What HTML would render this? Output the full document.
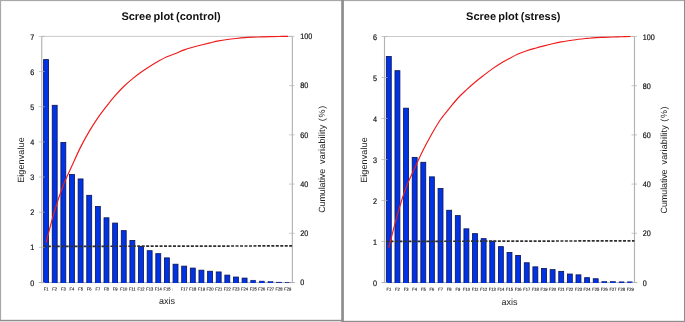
<!DOCTYPE html>
<html><head><meta charset="utf-8"><title>Scree plots</title>
<style>html,body{margin:0;padding:0;background:#fff}body{width:685px;height:322px;overflow:hidden}</style></head>
<body>
<svg width="685" height="322" viewBox="0 0 685 322" style="display:block;text-rendering:geometricPrecision;font-family:'Liberation Sans',sans-serif">
<rect width="685" height="322" fill="#fff"/>
<clipPath id="cp41"><rect x="36.75" y="31.4" width="260.3" height="251.50"/></clipPath>
<line x1="41.75" y1="36.4" x2="292.05" y2="36.4" stroke="#c4c4c4" stroke-width="0.9"/>
<line x1="38.95" y1="282.55" x2="294.85" y2="282.55" stroke="#b0b0b0" stroke-width="0.9"/>
<rect x="43.62" y="59.60" width="4.9" height="226.25" fill="#0033e6" stroke="#0c1658" stroke-width="0.85" clip-path="url(#cp41)"/>
<rect x="52.25" y="105.31" width="4.9" height="180.54" fill="#0033e6" stroke="#0c1658" stroke-width="0.85" clip-path="url(#cp41)"/>
<rect x="60.88" y="142.57" width="4.9" height="143.28" fill="#0033e6" stroke="#0c1658" stroke-width="0.85" clip-path="url(#cp41)"/>
<rect x="69.51" y="174.57" width="4.9" height="111.28" fill="#0033e6" stroke="#0c1658" stroke-width="0.85" clip-path="url(#cp41)"/>
<rect x="78.14" y="178.96" width="4.9" height="106.89" fill="#0033e6" stroke="#0c1658" stroke-width="0.85" clip-path="url(#cp41)"/>
<rect x="86.77" y="195.31" width="4.9" height="90.54" fill="#0033e6" stroke="#0c1658" stroke-width="0.85" clip-path="url(#cp41)"/>
<rect x="95.40" y="206.56" width="4.9" height="79.29" fill="#0033e6" stroke="#0c1658" stroke-width="0.85" clip-path="url(#cp41)"/>
<rect x="104.03" y="217.81" width="4.9" height="68.04" fill="#0033e6" stroke="#0c1658" stroke-width="0.85" clip-path="url(#cp41)"/>
<rect x="112.66" y="223.08" width="4.9" height="62.77" fill="#0033e6" stroke="#0c1658" stroke-width="0.85" clip-path="url(#cp41)"/>
<rect x="121.29" y="230.64" width="4.9" height="55.21" fill="#0033e6" stroke="#0c1658" stroke-width="0.85" clip-path="url(#cp41)"/>
<rect x="129.93" y="240.49" width="4.9" height="45.36" fill="#0033e6" stroke="#0c1658" stroke-width="0.85" clip-path="url(#cp41)"/>
<rect x="138.56" y="246.46" width="4.9" height="39.39" fill="#0033e6" stroke="#0c1658" stroke-width="0.85" clip-path="url(#cp41)"/>
<rect x="147.19" y="250.72" width="4.9" height="35.13" fill="#0033e6" stroke="#0c1658" stroke-width="0.85" clip-path="url(#cp41)"/>
<rect x="155.82" y="253.67" width="4.9" height="32.18" fill="#0033e6" stroke="#0c1658" stroke-width="0.85" clip-path="url(#cp41)"/>
<rect x="164.45" y="257.89" width="4.9" height="27.96" fill="#0033e6" stroke="#0c1658" stroke-width="0.85" clip-path="url(#cp41)"/>
<rect x="173.08" y="264.22" width="4.9" height="21.63" fill="#0033e6" stroke="#0c1658" stroke-width="0.85" clip-path="url(#cp41)"/>
<rect x="181.71" y="266.15" width="4.9" height="19.70" fill="#0033e6" stroke="#0c1658" stroke-width="0.85" clip-path="url(#cp41)"/>
<rect x="190.34" y="268.08" width="4.9" height="17.77" fill="#0033e6" stroke="#0c1658" stroke-width="0.85" clip-path="url(#cp41)"/>
<rect x="198.97" y="270.19" width="4.9" height="15.66" fill="#0033e6" stroke="#0c1658" stroke-width="0.85" clip-path="url(#cp41)"/>
<rect x="207.61" y="271.25" width="4.9" height="14.60" fill="#0033e6" stroke="#0c1658" stroke-width="0.85" clip-path="url(#cp41)"/>
<rect x="216.24" y="271.95" width="4.9" height="13.90" fill="#0033e6" stroke="#0c1658" stroke-width="0.85" clip-path="url(#cp41)"/>
<rect x="224.87" y="275.12" width="4.9" height="10.73" fill="#0033e6" stroke="#0c1658" stroke-width="0.85" clip-path="url(#cp41)"/>
<rect x="233.50" y="277.05" width="4.9" height="8.80" fill="#0033e6" stroke="#0c1658" stroke-width="0.85" clip-path="url(#cp41)"/>
<rect x="242.13" y="278.10" width="4.9" height="7.75" fill="#0033e6" stroke="#0c1658" stroke-width="0.85" clip-path="url(#cp41)"/>
<rect x="250.76" y="280.21" width="4.9" height="5.64" fill="#0033e6" stroke="#0c1658" stroke-width="0.5" clip-path="url(#cp41)"/>
<rect x="259.39" y="281.09" width="4.9" height="4.76" fill="#0033e6" stroke="#0c1658" stroke-width="0.5" clip-path="url(#cp41)"/>
<rect x="268.02" y="281.62" width="4.9" height="4.23" fill="#0033e6" stroke="#0c1658" stroke-width="0.5" clip-path="url(#cp41)"/>
<rect x="276.65" y="282.15" width="4.9" height="3.70" fill="#0033e6" stroke="#0c1658" stroke-width="0.5" clip-path="url(#cp41)"/>
<rect x="285.28" y="282.43" width="4.9" height="3.42" fill="#0033e6" stroke="#0c1658" stroke-width="0.5" clip-path="url(#cp41)"/>
<line x1="41.75" y1="36.4" x2="41.75" y2="282.9" stroke="#b2b2b2" stroke-width="1.15"/>
<line x1="292.35" y1="36.4" x2="292.35" y2="282.9" stroke="#b2b2b2" stroke-width="1.15"/>
<line x1="38.75" y1="282.50" x2="44.75" y2="282.50" stroke="#b2b2b2" stroke-width="0.7"/>
<text transform="translate(34.15,285.60) scale(0.9,1)" font-size="8" text-anchor="end" fill="#111" stroke="#111" stroke-width="0.2">0</text>
<line x1="38.75" y1="247.34" x2="44.75" y2="247.34" stroke="#b2b2b2" stroke-width="0.7"/>
<text transform="translate(34.15,250.44) scale(0.9,1)" font-size="8" text-anchor="end" fill="#111" stroke="#111" stroke-width="0.2">1</text>
<line x1="38.75" y1="212.19" x2="44.75" y2="212.19" stroke="#b2b2b2" stroke-width="0.7"/>
<text transform="translate(34.15,215.29) scale(0.9,1)" font-size="8" text-anchor="end" fill="#111" stroke="#111" stroke-width="0.2">2</text>
<line x1="38.75" y1="177.03" x2="44.75" y2="177.03" stroke="#b2b2b2" stroke-width="0.7"/>
<text transform="translate(34.15,180.13) scale(0.9,1)" font-size="8" text-anchor="end" fill="#111" stroke="#111" stroke-width="0.2">3</text>
<line x1="38.75" y1="141.87" x2="44.75" y2="141.87" stroke="#b2b2b2" stroke-width="0.7"/>
<text transform="translate(34.15,144.97) scale(0.9,1)" font-size="8" text-anchor="end" fill="#111" stroke="#111" stroke-width="0.2">4</text>
<line x1="38.75" y1="106.71" x2="44.75" y2="106.71" stroke="#b2b2b2" stroke-width="0.7"/>
<text transform="translate(34.15,109.81) scale(0.9,1)" font-size="8" text-anchor="end" fill="#111" stroke="#111" stroke-width="0.2">5</text>
<line x1="38.75" y1="71.56" x2="44.75" y2="71.56" stroke="#b2b2b2" stroke-width="0.7"/>
<text transform="translate(34.15,74.66) scale(0.9,1)" font-size="8" text-anchor="end" fill="#111" stroke="#111" stroke-width="0.2">6</text>
<line x1="38.75" y1="36.40" x2="44.75" y2="36.40" stroke="#b2b2b2" stroke-width="0.7"/>
<text transform="translate(34.15,39.50) scale(0.9,1)" font-size="8" text-anchor="end" fill="#111" stroke="#111" stroke-width="0.2">7</text>
<line x1="289.05" y1="282.50" x2="294.55" y2="282.50" stroke="#b2b2b2" stroke-width="0.7"/>
<text transform="translate(300.25,285.35) scale(0.9,1)" font-size="8" fill="#111" stroke="#111" stroke-width="0.2">0</text>
<line x1="289.05" y1="233.28" x2="294.55" y2="233.28" stroke="#b2b2b2" stroke-width="0.7"/>
<text transform="translate(300.25,236.13) scale(0.9,1)" font-size="8" fill="#111" stroke="#111" stroke-width="0.2">20</text>
<line x1="289.05" y1="184.06" x2="294.55" y2="184.06" stroke="#b2b2b2" stroke-width="0.7"/>
<text transform="translate(300.25,186.91) scale(0.9,1)" font-size="8" fill="#111" stroke="#111" stroke-width="0.2">40</text>
<line x1="289.05" y1="134.84" x2="294.55" y2="134.84" stroke="#b2b2b2" stroke-width="0.7"/>
<text transform="translate(300.25,137.69) scale(0.9,1)" font-size="8" fill="#111" stroke="#111" stroke-width="0.2">60</text>
<line x1="289.05" y1="85.62" x2="294.55" y2="85.62" stroke="#b2b2b2" stroke-width="0.7"/>
<text transform="translate(300.25,88.47) scale(0.9,1)" font-size="8" fill="#111" stroke="#111" stroke-width="0.2">80</text>
<line x1="289.05" y1="36.40" x2="294.55" y2="36.40" stroke="#b2b2b2" stroke-width="0.7"/>
<text transform="translate(300.25,39.25) scale(0.9,1)" font-size="8" fill="#111" stroke="#111" stroke-width="0.2">100</text>
<line x1="43.35" y1="246.40" x2="292.05" y2="245.90" stroke="#2e2e2e" stroke-width="1.7" stroke-dasharray="3.0,1.47"/>
<path d="M46.07,242.38 C47.50,237.06 51.82,219.99 54.70,210.47 C57.57,200.95 60.45,192.71 63.33,185.26 C66.20,177.82 69.08,172.16 71.96,165.80 C74.84,159.45 77.71,152.87 80.59,147.13 C83.47,141.40 86.34,136.28 89.22,131.40 C92.10,126.52 94.97,122.03 97.85,117.84 C100.73,113.66 103.61,110.00 106.48,106.31 C109.36,102.62 112.24,99.02 115.11,95.72 C117.99,92.42 120.87,89.30 123.74,86.49 C126.62,83.69 129.50,81.24 132.38,78.88 C135.25,76.52 138.13,74.39 141.01,72.34 C143.88,70.29 146.76,68.40 149.64,66.57 C152.51,64.73 155.39,62.94 158.27,61.32 C161.15,59.70 164.02,58.14 166.90,56.84 C169.78,55.53 172.65,54.65 175.53,53.49 C178.41,52.33 181.29,50.92 184.16,49.87 C187.04,48.83 189.92,48.04 192.79,47.22 C195.67,46.40 198.55,45.67 201.42,44.94 C204.30,44.22 207.18,43.53 210.06,42.86 C212.93,42.18 215.81,41.46 218.69,40.90 C221.56,40.34 224.44,39.91 227.32,39.51 C230.19,39.10 233.07,38.78 235.95,38.47 C238.83,38.15 241.70,37.83 244.58,37.61 C247.46,37.39 250.33,37.27 253.21,37.14 C256.09,37.01 258.96,36.91 261.84,36.82 C264.72,36.73 267.60,36.66 270.47,36.60 C273.35,36.54 276.23,36.51 279.10,36.48 C281.98,36.44 286.30,36.41 287.73,36.40" fill="none" stroke="#f01a1a" stroke-width="1.15" stroke-linecap="round"/>
<text transform="translate(46.07,290.50) rotate(0.4) scale(0.92,1)" font-size="4.4" text-anchor="middle" fill="#111" stroke="#111" stroke-width="0.12">F1</text>
<text transform="translate(54.70,290.50) rotate(0.4) scale(0.92,1)" font-size="4.4" text-anchor="middle" fill="#111" stroke="#111" stroke-width="0.12">F2</text>
<text transform="translate(63.33,290.50) rotate(0.4) scale(0.92,1)" font-size="4.4" text-anchor="middle" fill="#111" stroke="#111" stroke-width="0.12">F3</text>
<text transform="translate(71.96,290.50) rotate(0.4) scale(0.92,1)" font-size="4.4" text-anchor="middle" fill="#111" stroke="#111" stroke-width="0.12">F4</text>
<text transform="translate(80.59,290.50) rotate(0.4) scale(0.92,1)" font-size="4.4" text-anchor="middle" fill="#111" stroke="#111" stroke-width="0.12">F5</text>
<text transform="translate(89.22,290.50) rotate(0.4) scale(0.92,1)" font-size="4.4" text-anchor="middle" fill="#111" stroke="#111" stroke-width="0.12">F6</text>
<text transform="translate(97.85,290.50) rotate(0.4) scale(0.92,1)" font-size="4.4" text-anchor="middle" fill="#111" stroke="#111" stroke-width="0.12">F7</text>
<text transform="translate(106.48,290.50) rotate(0.4) scale(0.92,1)" font-size="4.4" text-anchor="middle" fill="#111" stroke="#111" stroke-width="0.12">F8</text>
<text transform="translate(115.11,290.50) rotate(0.4) scale(0.92,1)" font-size="4.4" text-anchor="middle" fill="#111" stroke="#111" stroke-width="0.12">F9</text>
<text transform="translate(123.74,290.50) rotate(0.4) scale(0.92,1)" font-size="4.4" text-anchor="middle" fill="#111" stroke="#111" stroke-width="0.12">F10</text>
<text transform="translate(132.38,290.50) rotate(0.4) scale(0.92,1)" font-size="4.4" text-anchor="middle" fill="#111" stroke="#111" stroke-width="0.12">F11</text>
<text transform="translate(141.01,290.50) rotate(0.4) scale(0.92,1)" font-size="4.4" text-anchor="middle" fill="#111" stroke="#111" stroke-width="0.12">F12</text>
<text transform="translate(149.64,290.50) rotate(0.4) scale(0.92,1)" font-size="4.4" text-anchor="middle" fill="#111" stroke="#111" stroke-width="0.12">F13</text>
<text transform="translate(158.27,290.50) rotate(0.4) scale(0.92,1)" font-size="4.4" text-anchor="middle" fill="#111" stroke="#111" stroke-width="0.12">F14</text>
<text transform="translate(166.90,290.50) rotate(0.4) scale(0.92,1)" font-size="4.4" text-anchor="middle" fill="#111" stroke="#111" stroke-width="0.12">F15</text>
<text x="172.53" y="290.70" font-size="4.5" text-anchor="middle" fill="#bbb">I</text>
<text transform="translate(184.16,290.50) rotate(0.4) scale(0.92,1)" font-size="4.4" text-anchor="middle" fill="#111" stroke="#111" stroke-width="0.12">F17</text>
<text transform="translate(192.79,290.50) rotate(0.4) scale(0.92,1)" font-size="4.4" text-anchor="middle" fill="#111" stroke="#111" stroke-width="0.12">F18</text>
<text transform="translate(201.42,290.50) rotate(0.4) scale(0.92,1)" font-size="4.4" text-anchor="middle" fill="#111" stroke="#111" stroke-width="0.12">F19</text>
<text transform="translate(210.06,290.50) rotate(0.4) scale(0.92,1)" font-size="4.4" text-anchor="middle" fill="#111" stroke="#111" stroke-width="0.12">F20</text>
<text transform="translate(218.69,290.50) rotate(0.4) scale(0.92,1)" font-size="4.4" text-anchor="middle" fill="#111" stroke="#111" stroke-width="0.12">F21</text>
<text transform="translate(227.32,290.50) rotate(0.4) scale(0.92,1)" font-size="4.4" text-anchor="middle" fill="#111" stroke="#111" stroke-width="0.12">F22</text>
<text transform="translate(235.95,290.50) rotate(0.4) scale(0.92,1)" font-size="4.4" text-anchor="middle" fill="#111" stroke="#111" stroke-width="0.12">F23</text>
<text transform="translate(244.58,290.50) rotate(0.4) scale(0.92,1)" font-size="4.4" text-anchor="middle" fill="#111" stroke="#111" stroke-width="0.12">F24</text>
<text transform="translate(253.21,290.50) rotate(0.4) scale(0.92,1)" font-size="4.4" text-anchor="middle" fill="#111" stroke="#111" stroke-width="0.12">F25</text>
<text transform="translate(261.84,290.50) rotate(0.4) scale(0.92,1)" font-size="4.4" text-anchor="middle" fill="#111" stroke="#111" stroke-width="0.12">F26</text>
<text transform="translate(270.47,290.50) rotate(0.4) scale(0.92,1)" font-size="4.4" text-anchor="middle" fill="#111" stroke="#111" stroke-width="0.12">F27</text>
<text transform="translate(279.10,290.50) rotate(0.4) scale(0.92,1)" font-size="4.4" text-anchor="middle" fill="#111" stroke="#111" stroke-width="0.12">F28</text>
<text transform="translate(287.73,290.50) rotate(0.4) scale(0.92,1)" font-size="4.4" text-anchor="middle" fill="#111" stroke="#111" stroke-width="0.12">F29</text>
<text x="171" y="19.9" font-size="11" word-spacing="-0.8" font-weight="bold" text-anchor="middle" fill="#111">Scree plot (control)</text>
<text x="167" y="303.9" font-size="9" text-anchor="middle" fill="#222">axis</text>
<text transform="translate(23.8,160.1) rotate(-90)" font-size="9" text-anchor="middle" textLength="45.5" fill="#222">Eigenvalue</text>
<text transform="translate(325.1,212.8) rotate(-90)" font-size="9" fill="#222"><tspan x="0" textLength="44">Cumulative</tspan><tspan x="48.9" textLength="39.2">variability</tspan><tspan x="91.6" textLength="15.4">(%)</tspan></text>
<clipPath id="cp384"><rect x="379.5" y="31.5" width="260.0" height="251.40"/></clipPath>
<line x1="384.5" y1="36.5" x2="634.5" y2="36.5" stroke="#c4c4c4" stroke-width="0.9"/>
<line x1="381.7" y1="282.55" x2="637.3" y2="282.55" stroke="#b0b0b0" stroke-width="0.9"/>
<rect x="386.36" y="56.53" width="4.9" height="229.32" fill="#0033e6" stroke="#0c1658" stroke-width="0.85" clip-path="url(#cp384)"/>
<rect x="394.98" y="70.68" width="4.9" height="215.17" fill="#0033e6" stroke="#0c1658" stroke-width="0.85" clip-path="url(#cp384)"/>
<rect x="403.60" y="108.19" width="4.9" height="177.66" fill="#0033e6" stroke="#0c1658" stroke-width="0.85" clip-path="url(#cp384)"/>
<rect x="412.22" y="157.39" width="4.9" height="128.46" fill="#0033e6" stroke="#0c1658" stroke-width="0.85" clip-path="url(#cp384)"/>
<rect x="420.84" y="162.31" width="4.9" height="123.54" fill="#0033e6" stroke="#0c1658" stroke-width="0.85" clip-path="url(#cp384)"/>
<rect x="429.46" y="176.86" width="4.9" height="108.98" fill="#0033e6" stroke="#0c1658" stroke-width="0.85" clip-path="url(#cp384)"/>
<rect x="438.08" y="188.55" width="4.9" height="97.30" fill="#0033e6" stroke="#0c1658" stroke-width="0.85" clip-path="url(#cp384)"/>
<rect x="446.71" y="210.28" width="4.9" height="75.57" fill="#0033e6" stroke="#0c1658" stroke-width="0.85" clip-path="url(#cp384)"/>
<rect x="455.33" y="215.61" width="4.9" height="70.24" fill="#0033e6" stroke="#0c1658" stroke-width="0.85" clip-path="url(#cp384)"/>
<rect x="463.95" y="228.85" width="4.9" height="57.00" fill="#0033e6" stroke="#0c1658" stroke-width="0.85" clip-path="url(#cp384)"/>
<rect x="472.57" y="233.65" width="4.9" height="52.20" fill="#0033e6" stroke="#0c1658" stroke-width="0.85" clip-path="url(#cp384)"/>
<rect x="481.19" y="238.65" width="4.9" height="47.20" fill="#0033e6" stroke="#0c1658" stroke-width="0.85" clip-path="url(#cp384)"/>
<rect x="489.81" y="241.11" width="4.9" height="44.74" fill="#0033e6" stroke="#0c1658" stroke-width="0.85" clip-path="url(#cp384)"/>
<rect x="498.43" y="246.65" width="4.9" height="39.20" fill="#0033e6" stroke="#0c1658" stroke-width="0.85" clip-path="url(#cp384)"/>
<rect x="507.05" y="252.51" width="4.9" height="33.34" fill="#0033e6" stroke="#0c1658" stroke-width="0.85" clip-path="url(#cp384)"/>
<rect x="515.67" y="255.46" width="4.9" height="30.39" fill="#0033e6" stroke="#0c1658" stroke-width="0.85" clip-path="url(#cp384)"/>
<rect x="524.29" y="262.76" width="4.9" height="23.09" fill="#0033e6" stroke="#0c1658" stroke-width="0.85" clip-path="url(#cp384)"/>
<rect x="532.91" y="266.86" width="4.9" height="18.99" fill="#0033e6" stroke="#0c1658" stroke-width="0.85" clip-path="url(#cp384)"/>
<rect x="541.53" y="268.42" width="4.9" height="17.43" fill="#0033e6" stroke="#0c1658" stroke-width="0.85" clip-path="url(#cp384)"/>
<rect x="550.15" y="269.65" width="4.9" height="16.20" fill="#0033e6" stroke="#0c1658" stroke-width="0.85" clip-path="url(#cp384)"/>
<rect x="558.77" y="271.37" width="4.9" height="14.48" fill="#0033e6" stroke="#0c1658" stroke-width="0.85" clip-path="url(#cp384)"/>
<rect x="567.39" y="274.04" width="4.9" height="11.81" fill="#0033e6" stroke="#0c1658" stroke-width="0.85" clip-path="url(#cp384)"/>
<rect x="576.02" y="274.86" width="4.9" height="11.00" fill="#0033e6" stroke="#0c1658" stroke-width="0.85" clip-path="url(#cp384)"/>
<rect x="584.64" y="277.68" width="4.9" height="8.17" fill="#0033e6" stroke="#0c1658" stroke-width="0.85" clip-path="url(#cp384)"/>
<rect x="593.26" y="278.75" width="4.9" height="7.10" fill="#0033e6" stroke="#0c1658" stroke-width="0.85" clip-path="url(#cp384)"/>
<rect x="601.88" y="281.42" width="4.9" height="4.44" fill="#0033e6" stroke="#0c1658" stroke-width="0.5" clip-path="url(#cp384)"/>
<rect x="610.50" y="281.42" width="4.9" height="4.44" fill="#0033e6" stroke="#0c1658" stroke-width="0.5" clip-path="url(#cp384)"/>
<rect x="619.12" y="281.83" width="4.9" height="4.03" fill="#0033e6" stroke="#0c1658" stroke-width="0.5" clip-path="url(#cp384)"/>
<rect x="627.74" y="281.83" width="4.9" height="4.03" fill="#0033e6" stroke="#0c1658" stroke-width="0.5" clip-path="url(#cp384)"/>
<line x1="384.5" y1="36.5" x2="384.5" y2="282.9" stroke="#b2b2b2" stroke-width="1.15"/>
<line x1="634.5" y1="36.5" x2="634.5" y2="282.9" stroke="#b2b2b2" stroke-width="1.15"/>
<line x1="381.5" y1="282.50" x2="387.5" y2="282.50" stroke="#b2b2b2" stroke-width="0.7"/>
<text transform="translate(376.90,285.60) scale(0.9,1)" font-size="8" text-anchor="end" fill="#111" stroke="#111" stroke-width="0.2">0</text>
<line x1="381.5" y1="241.50" x2="387.5" y2="241.50" stroke="#b2b2b2" stroke-width="0.7"/>
<text transform="translate(376.90,244.60) scale(0.9,1)" font-size="8" text-anchor="end" fill="#111" stroke="#111" stroke-width="0.2">1</text>
<line x1="381.5" y1="200.50" x2="387.5" y2="200.50" stroke="#b2b2b2" stroke-width="0.7"/>
<text transform="translate(376.90,203.60) scale(0.9,1)" font-size="8" text-anchor="end" fill="#111" stroke="#111" stroke-width="0.2">2</text>
<line x1="381.5" y1="159.50" x2="387.5" y2="159.50" stroke="#b2b2b2" stroke-width="0.7"/>
<text transform="translate(376.90,162.60) scale(0.9,1)" font-size="8" text-anchor="end" fill="#111" stroke="#111" stroke-width="0.2">3</text>
<line x1="381.5" y1="118.50" x2="387.5" y2="118.50" stroke="#b2b2b2" stroke-width="0.7"/>
<text transform="translate(376.90,121.60) scale(0.9,1)" font-size="8" text-anchor="end" fill="#111" stroke="#111" stroke-width="0.2">4</text>
<line x1="381.5" y1="77.50" x2="387.5" y2="77.50" stroke="#b2b2b2" stroke-width="0.7"/>
<text transform="translate(376.90,80.60) scale(0.9,1)" font-size="8" text-anchor="end" fill="#111" stroke="#111" stroke-width="0.2">5</text>
<line x1="381.5" y1="36.50" x2="387.5" y2="36.50" stroke="#b2b2b2" stroke-width="0.7"/>
<text transform="translate(376.90,39.60) scale(0.9,1)" font-size="8" text-anchor="end" fill="#111" stroke="#111" stroke-width="0.2">6</text>
<line x1="631.5" y1="282.50" x2="637.0" y2="282.50" stroke="#b2b2b2" stroke-width="0.7"/>
<text transform="translate(642.70,285.65) scale(0.9,1)" font-size="8" fill="#111" stroke="#111" stroke-width="0.2">0</text>
<line x1="631.5" y1="233.30" x2="637.0" y2="233.30" stroke="#b2b2b2" stroke-width="0.7"/>
<text transform="translate(642.70,236.45) scale(0.9,1)" font-size="8" fill="#111" stroke="#111" stroke-width="0.2">20</text>
<line x1="631.5" y1="184.10" x2="637.0" y2="184.10" stroke="#b2b2b2" stroke-width="0.7"/>
<text transform="translate(642.70,187.25) scale(0.9,1)" font-size="8" fill="#111" stroke="#111" stroke-width="0.2">40</text>
<line x1="631.5" y1="134.90" x2="637.0" y2="134.90" stroke="#b2b2b2" stroke-width="0.7"/>
<text transform="translate(642.70,138.05) scale(0.9,1)" font-size="8" fill="#111" stroke="#111" stroke-width="0.2">60</text>
<line x1="631.5" y1="85.70" x2="637.0" y2="85.70" stroke="#b2b2b2" stroke-width="0.7"/>
<text transform="translate(642.70,88.85) scale(0.9,1)" font-size="8" fill="#111" stroke="#111" stroke-width="0.2">80</text>
<line x1="631.5" y1="36.50" x2="637.0" y2="36.50" stroke="#b2b2b2" stroke-width="0.7"/>
<text transform="translate(642.70,39.65) scale(0.9,1)" font-size="8" fill="#111" stroke="#111" stroke-width="0.2">100</text>
<line x1="386.1" y1="241.40" x2="634.5" y2="240.85" stroke="#2e2e2e" stroke-width="1.7" stroke-dasharray="3.0,1.47"/>
<path d="M388.81,247.45 C390.25,241.98 394.56,224.58 397.43,214.59 C400.30,204.61 403.18,195.29 406.05,187.55 C408.93,179.80 411.80,174.40 414.67,168.12 C417.55,161.83 420.42,155.54 423.29,149.82 C426.17,144.09 429.04,138.82 431.91,133.77 C434.79,128.73 437.66,123.72 440.53,119.54 C443.41,115.36 446.28,112.22 449.16,108.67 C452.03,105.12 454.90,101.39 457.78,98.26 C460.65,95.13 463.52,92.56 466.40,89.89 C469.27,87.23 472.14,84.69 475.02,82.28 C477.89,79.86 480.76,77.66 483.64,75.43 C486.51,73.20 489.39,70.92 492.26,68.88 C495.13,66.83 498.01,64.92 500.88,63.18 C503.75,61.43 506.63,59.91 509.50,58.39 C512.37,56.86 515.25,55.31 518.12,54.05 C520.99,52.79 523.87,51.79 526.74,50.82 C529.61,49.85 532.49,49.04 535.36,48.22 C538.24,47.39 541.11,46.60 543.98,45.86 C546.86,45.12 549.73,44.42 552.60,43.77 C555.48,43.11 558.35,42.48 561.22,41.94 C564.10,41.40 566.97,40.98 569.84,40.53 C572.72,40.08 575.59,39.59 578.47,39.24 C581.34,38.88 584.21,38.65 587.09,38.39 C589.96,38.13 592.83,37.83 595.71,37.66 C598.58,37.48 601.45,37.44 604.33,37.33 C607.20,37.23 610.07,37.11 612.95,37.01 C615.82,36.92 618.70,36.84 621.57,36.76 C624.44,36.67 628.75,36.54 630.19,36.50" fill="none" stroke="#f01a1a" stroke-width="1.15" stroke-linecap="round"/>
<text transform="translate(388.81,290.80) rotate(0.4) scale(0.92,1)" font-size="4.4" text-anchor="middle" fill="#111" stroke="#111" stroke-width="0.12">F1</text>
<text transform="translate(397.43,290.80) rotate(0.4) scale(0.92,1)" font-size="4.4" text-anchor="middle" fill="#111" stroke="#111" stroke-width="0.12">F2</text>
<text transform="translate(406.05,290.80) rotate(0.4) scale(0.92,1)" font-size="4.4" text-anchor="middle" fill="#111" stroke="#111" stroke-width="0.12">F3</text>
<text transform="translate(414.67,290.80) rotate(0.4) scale(0.92,1)" font-size="4.4" text-anchor="middle" fill="#111" stroke="#111" stroke-width="0.12">F4</text>
<text transform="translate(423.29,290.80) rotate(0.4) scale(0.92,1)" font-size="4.4" text-anchor="middle" fill="#111" stroke="#111" stroke-width="0.12">F5</text>
<text transform="translate(431.91,290.80) rotate(0.4) scale(0.92,1)" font-size="4.4" text-anchor="middle" fill="#111" stroke="#111" stroke-width="0.12">F6</text>
<text transform="translate(440.53,290.80) rotate(0.4) scale(0.92,1)" font-size="4.4" text-anchor="middle" fill="#111" stroke="#111" stroke-width="0.12">F7</text>
<text transform="translate(449.16,290.80) rotate(0.4) scale(0.92,1)" font-size="4.4" text-anchor="middle" fill="#111" stroke="#111" stroke-width="0.12">F8</text>
<text transform="translate(457.78,290.80) rotate(0.4) scale(0.92,1)" font-size="4.4" text-anchor="middle" fill="#111" stroke="#111" stroke-width="0.12">F9</text>
<text transform="translate(466.40,290.80) rotate(0.4) scale(0.92,1)" font-size="4.4" text-anchor="middle" fill="#111" stroke="#111" stroke-width="0.12">F10</text>
<text transform="translate(475.02,290.80) rotate(0.4) scale(0.92,1)" font-size="4.4" text-anchor="middle" fill="#111" stroke="#111" stroke-width="0.12">F11</text>
<text transform="translate(483.64,290.80) rotate(0.4) scale(0.92,1)" font-size="4.4" text-anchor="middle" fill="#111" stroke="#111" stroke-width="0.12">F12</text>
<text transform="translate(492.26,290.80) rotate(0.4) scale(0.92,1)" font-size="4.4" text-anchor="middle" fill="#111" stroke="#111" stroke-width="0.12">F13</text>
<text transform="translate(500.88,290.80) rotate(0.4) scale(0.92,1)" font-size="4.4" text-anchor="middle" fill="#111" stroke="#111" stroke-width="0.12">F14</text>
<text transform="translate(509.50,290.80) rotate(0.4) scale(0.92,1)" font-size="4.4" text-anchor="middle" fill="#111" stroke="#111" stroke-width="0.12">F15</text>
<text transform="translate(518.12,290.80) rotate(0.4) scale(0.92,1)" font-size="4.4" text-anchor="middle" fill="#111" stroke="#111" stroke-width="0.12">F16</text>
<text transform="translate(526.74,290.80) rotate(0.4) scale(0.92,1)" font-size="4.4" text-anchor="middle" fill="#111" stroke="#111" stroke-width="0.12">F17</text>
<text transform="translate(535.36,290.80) rotate(0.4) scale(0.92,1)" font-size="4.4" text-anchor="middle" fill="#111" stroke="#111" stroke-width="0.12">F18</text>
<text transform="translate(543.98,290.80) rotate(0.4) scale(0.92,1)" font-size="4.4" text-anchor="middle" fill="#111" stroke="#111" stroke-width="0.12">F19</text>
<text transform="translate(552.60,290.80) rotate(0.4) scale(0.92,1)" font-size="4.4" text-anchor="middle" fill="#111" stroke="#111" stroke-width="0.12">F20</text>
<text transform="translate(561.22,290.80) rotate(0.4) scale(0.92,1)" font-size="4.4" text-anchor="middle" fill="#111" stroke="#111" stroke-width="0.12">F21</text>
<text transform="translate(569.84,290.80) rotate(0.4) scale(0.92,1)" font-size="4.4" text-anchor="middle" fill="#111" stroke="#111" stroke-width="0.12">F22</text>
<text transform="translate(578.47,290.80) rotate(0.4) scale(0.92,1)" font-size="4.4" text-anchor="middle" fill="#111" stroke="#111" stroke-width="0.12">F23</text>
<text transform="translate(587.09,290.80) rotate(0.4) scale(0.92,1)" font-size="4.4" text-anchor="middle" fill="#111" stroke="#111" stroke-width="0.12">F24</text>
<text transform="translate(595.71,290.80) rotate(0.4) scale(0.92,1)" font-size="4.4" text-anchor="middle" fill="#111" stroke="#111" stroke-width="0.12">F25</text>
<text transform="translate(604.33,290.80) rotate(0.4) scale(0.92,1)" font-size="4.4" text-anchor="middle" fill="#111" stroke="#111" stroke-width="0.12">F26</text>
<text transform="translate(612.95,290.80) rotate(0.4) scale(0.92,1)" font-size="4.4" text-anchor="middle" fill="#111" stroke="#111" stroke-width="0.12">F27</text>
<text transform="translate(621.57,290.80) rotate(0.4) scale(0.92,1)" font-size="4.4" text-anchor="middle" fill="#111" stroke="#111" stroke-width="0.12">F28</text>
<text transform="translate(630.19,290.80) rotate(0.4) scale(0.92,1)" font-size="4.4" text-anchor="middle" fill="#111" stroke="#111" stroke-width="0.12">F29</text>
<text x="513.3" y="19.9" font-size="11" word-spacing="-0.8" font-weight="bold" text-anchor="middle" fill="#111">Scree plot (stress)</text>
<text x="509.5" y="304.7" font-size="9" text-anchor="middle" fill="#222">axis</text>
<text transform="translate(366.8,160.1) rotate(-90)" font-size="9" text-anchor="middle" textLength="45.5" fill="#222">Eigenvalue</text>
<text transform="translate(667.2,213.4) rotate(-90)" font-size="9" fill="#222"><tspan x="0" textLength="44">Cumulative</tspan><tspan x="48.9" textLength="39.2">variability</tspan><tspan x="91.6" textLength="15.4">(%)</tspan></text>
<rect x="0" y="0" width="685" height="1.1" fill="#a8a8a8"/>
<rect x="0" y="0" width="1.1" height="321" fill="#a8a8a8"/>
<rect x="0" y="319.8" width="342" height="1.2" fill="#8e8e8e"/>
<rect x="0" y="321" width="342" height="1" fill="#dcdcdc"/>
<rect x="341.2" y="0" width="2.7" height="322" fill="#8e8e8e"/>
<rect x="343" y="320.8" width="342" height="1.2" fill="#8e8e8e"/>
<rect x="684" y="0" width="1" height="322" fill="#8e8e8e"/>
</svg>
</body></html>
